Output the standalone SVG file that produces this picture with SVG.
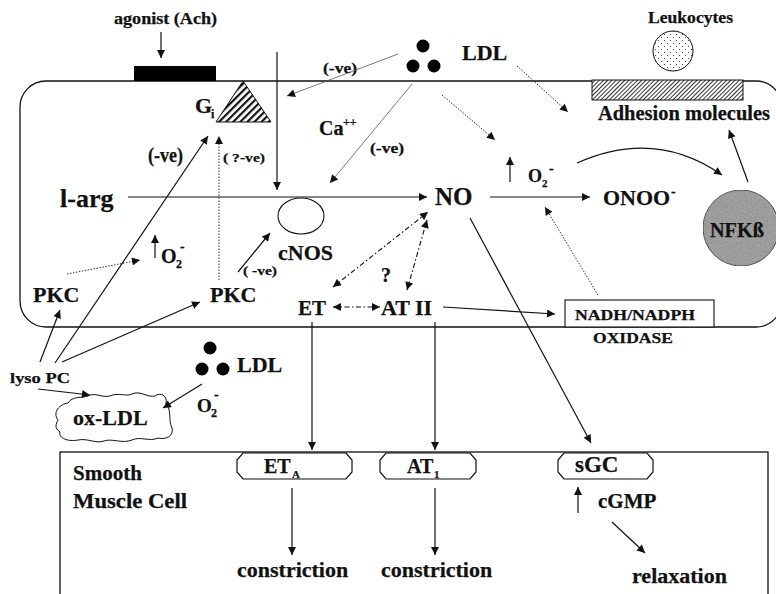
<svg xmlns="http://www.w3.org/2000/svg" width="776" height="594" viewBox="0 0 776 594">
  <style>
    text { font-family: "Liberation Serif", "Times New Roman", serif; font-weight: bold; fill: #111; stroke: #111; stroke-width: 0.25; }
    .ln { fill: none; stroke: #111; stroke-width: 1.2; }
    .dot { fill: none; stroke: #333; stroke-width: 1; stroke-dasharray: 1.5 1.5; }
    .dd { fill: none; stroke: #111; stroke-width: 1.1; stroke-dasharray: 5 2.5 1.5 2.5; }
    .thin { fill: none; stroke: #555; stroke-width: 0.8; }
    .outline { fill: none; stroke: #111; stroke-width: 1.3; }
    .pill { fill: #fff; stroke: #111; stroke-width: 1.2; }
    .ldl { fill: #000; }
  </style>
  <defs>
    <marker id="ah" viewBox="0 0 10 10" refX="10" refY="5" markerWidth="9" markerHeight="8" markerUnits="userSpaceOnUse" orient="auto-start-reverse">
      <path d="M0,0 L10,5 L0,10 Z" fill="#111"/>
    </marker>
    <pattern id="stripes" width="5" height="5" patternUnits="userSpaceOnUse" patternTransform="rotate(45)">
      <rect width="5" height="5" fill="#fff"/>
      <rect width="2.2" height="5" fill="#111"/>
    </pattern>
    <pattern id="fineHatch" width="3" height="3" patternUnits="userSpaceOnUse" patternTransform="rotate(45)">
      <rect width="3" height="3" fill="#fff"/>
      <rect width="1" height="3" fill="#333"/>
    </pattern>
    <pattern id="speckle" width="6" height="6" patternUnits="userSpaceOnUse">
      <rect width="6" height="6" fill="#fff"/>
      <circle cx="1.5" cy="1.5" r="0.6" fill="#333"/>
      <circle cx="4.5" cy="4.5" r="0.6" fill="#333"/>
    </pattern>
    <!-- mottled texture for the nucleus-like NFKB disc -->
    <filter id="grain" x="0" y="0" width="100%" height="100%">
      <feTurbulence type="fractalNoise" baseFrequency="0.8" numOctaves="2" seed="3" result="n"/>
      <feColorMatrix in="n" type="matrix" values="0 0 0 0 0.25  0 0 0 0 0.25  0 0 0 0 0.25  2.2 0 0 0 -0.9" result="g"/>
      <feComposite in="g" in2="SourceGraphic" operator="in" result="gc"/>
      <feMerge><feMergeNode in="SourceGraphic"/><feMergeNode in="gc"/></feMerge>
    </filter>
  </defs>

  <!-- endothelial cell -->
  <rect id="endothelium" x="20" y="81" width="762" height="246" rx="26" class="outline"/>
  <!-- smooth muscle cell -->
  <rect id="smooth-muscle" x="60" y="452" width="708" height="200" class="outline"/>
  <g id="smc-label">
    <text x="73" y="480" font-size="21">Smooth</text>
    <text x="73" y="508" font-size="21" textLength="114" lengthAdjust="spacingAndGlyphs">Muscle Cell</text>
  </g>

  <!-- receptor and agonist -->
  <g id="receptor">
    <rect x="134" y="66" width="82" height="15" fill="#000"/>
    <text x="114" y="24" font-size="16" textLength="103" lengthAdjust="spacingAndGlyphs">agonist (Ach)</text>
  </g>

  <g id="gi">
    <text x="195" y="113" font-size="22">G</text>
    <text x="211" y="118" font-size="12">i</text>
    <path d="M243,81 L271,122 L216,122 Z" fill="url(#stripes)" stroke="#111" stroke-width="1"/>
  </g>

  <g id="ldl-top">
    <circle cx="423" cy="46" r="6.5" class="ldl"/>
    <circle cx="413" cy="66" r="6.5" class="ldl"/>
    <circle cx="434" cy="66" r="6.5" class="ldl"/>
    <text x="462" y="60" font-size="22">LDL</text>
  </g>

  <g id="leukocyte">
    <text x="648" y="23" font-size="16" textLength="85" lengthAdjust="spacingAndGlyphs">Leukocytes</text>
    <circle cx="673" cy="51" r="20" fill="url(#speckle)" stroke="#111" stroke-width="1"/>
  </g>

  <g id="adhesion">
    <rect x="592" y="80" width="151" height="20" fill="url(#fineHatch)" stroke="#111" stroke-width="1"/>
    <text x="598" y="120" font-size="20" textLength="172" lengthAdjust="spacingAndGlyphs">Adhesion molecules</text>
  </g>

  <g id="calcium">
    <text x="319" y="135" font-size="20">Ca</text>
    <text x="343" y="126" font-size="12">++</text>
  </g>

  <g id="labels-ve">
    <text x="323" y="73" font-size="15" textLength="34" lengthAdjust="spacingAndGlyphs">(-ve)</text>
    <text x="370" y="153" font-size="15" textLength="34" lengthAdjust="spacingAndGlyphs">(-ve)</text>
    <text x="148" y="162" font-size="20" textLength="35" lengthAdjust="spacingAndGlyphs">(-ve)</text>
    <text x="223" y="162" font-size="13" textLength="42" lengthAdjust="spacingAndGlyphs">( ?-ve)</text>
    <text x="243" y="275" font-size="12" textLength="34" lengthAdjust="spacingAndGlyphs">( -ve)</text>
  </g>

  <g id="larg"><text x="60" y="207" font-size="26">l-arg</text></g>
  <g id="no"><text x="435" y="205" font-size="25">NO</text></g>
  <g id="onoo">
    <text x="603" y="205" font-size="22">ONOO</text>
    <text x="671" y="196" font-size="14">-</text>
  </g>

  <g id="o2-upper">
    <text x="528" y="182" font-size="18">O</text>
    <text x="542" y="187" font-size="11">2</text>
    <text x="549" y="173" font-size="14">-</text>
  </g>

  <g id="cnos">
    <ellipse cx="301" cy="216" rx="23" ry="18" fill="none" stroke="#111" stroke-width="1.1"/>
    <text x="278" y="260" font-size="22">cNOS</text>
  </g>

  <g id="o2-left">
    <text x="161" y="263" font-size="20">O</text>
    <text x="176" y="268" font-size="12">2</text>
    <text x="180" y="251" font-size="14">-</text>
  </g>

  <g id="pkc-left"><text x="33" y="302" font-size="22">PKC</text></g>
  <g id="pkc-right"><text x="210" y="302" font-size="22">PKC</text></g>

  <g id="et"><text x="298" y="315" font-size="21">ET</text></g>
  <g id="at2"><text x="381" y="315" font-size="22">AT II</text></g>
  <g id="question"><text x="381" y="282" font-size="20">?</text></g>

  <g id="nadph">
    <rect x="565" y="300" width="149" height="27" fill="#fff" stroke="#111" stroke-width="1.1"/>
    <text x="575" y="320" font-size="15" textLength="120" lengthAdjust="spacingAndGlyphs">NADH/NADPH</text>
    <text x="593" y="343" font-size="15" textLength="80" lengthAdjust="spacingAndGlyphs">OXIDASE</text>
  </g>

  <g id="nfkb">
    <circle cx="741" cy="228" r="38" fill="#a2a2a2" stroke="#444" stroke-width="1" filter="url(#grain)"/>
    <text x="710" y="237" font-size="21" textLength="54" lengthAdjust="spacingAndGlyphs">NFKß</text>
  </g>

  <g id="lysopc"><text x="10" y="383" font-size="15" textLength="60" lengthAdjust="spacingAndGlyphs">lyso PC</text></g>

  <g id="oxldl">
    <path d="M58,420 C52,412 60,404 68,403 C72,396 82,398 88,396 C95,392 102,398 110,396 C118,392 126,397 132,394 C140,390 148,398 155,396 C160,392 168,395 166,404 C172,410 168,420 172,428 C174,436 166,440 158,438 C150,442 140,436 132,440 C122,444 112,438 104,441 C96,444 88,438 78,440 C68,442 58,438 60,432 C54,428 56,424 58,420 Z" fill="#fff" stroke="#111" stroke-width="1"/>
    <text x="73" y="425" font-size="22">ox-LDL</text>
  </g>

  <g id="ldl-bottom">
    <circle cx="210" cy="348" r="6.5" class="ldl"/>
    <circle cx="202" cy="369" r="6.5" class="ldl"/>
    <circle cx="223" cy="369" r="6.5" class="ldl"/>
    <text x="237" y="372" font-size="22">LDL</text>
  </g>

  <g id="o2-bottom">
    <text x="197" y="412" font-size="19">O</text>
    <text x="211" y="417" font-size="12">2</text>
    <text x="214" y="399" font-size="14">-</text>
  </g>

  <g id="eta">
    <path class="pill" d="M243,453 L346,453 L352,460 L352,472 L346,479 L243,479 L237,472 L237,460 Z"/>
    <text x="264" y="473" font-size="20">ET</text>
    <text x="292" y="478" font-size="11">A</text>
  </g>
  <g id="at1">
    <path class="pill" d="M386,453 L470,453 L476,460 L476,472 L470,479 L386,479 L380,472 L380,460 Z"/>
    <text x="407" y="473" font-size="20">AT</text>
    <text x="434" y="478" font-size="11">1</text>
  </g>
  <g id="sgc">
    <path class="pill" d="M564,453 L647,453 L653,460 L653,472 L647,479 L564,479 L558,472 L558,460 Z"/>
    <text x="575" y="472" font-size="23">sGC</text>
  </g>

  <g id="cgmp"><text x="598" y="508" font-size="21">cGMP</text></g>
  <g id="outcomes">
    <text x="237" y="577" font-size="22">constriction</text>
    <text x="381" y="577" font-size="22">constriction</text>
    <text x="632" y="583" font-size="22">relaxation</text>
  </g>

  <!-- connectors -->
  <g id="connectors">
    <path class="ln" d="M161,32 L161,58" marker-end="url(#ah)"/>
    <path class="ln" d="M277,52 L277,190" marker-end="url(#ah)"/>
    <path class="thin" d="M398,54 L287,96" marker-end="url(#ah)"/>
    <path class="thin" d="M412,84 L330,183" marker-end="url(#ah)"/>
    <path class="dot" d="M517,66 L568,112" marker-end="url(#ah)"/>
    <path class="dot" d="M442,95 L495,140" marker-end="url(#ah)"/>
    <path class="ln" d="M128,197 L427,197" marker-end="url(#ah)"/>
    <path class="ln" d="M490,197 L590,197" marker-end="url(#ah)"/>
    <path class="ln" d="M510,182 L510,157" marker-end="url(#ah)"/>
    <path class="ln" d="M577,163 Q655,128 722,175" marker-end="url(#ah)"/>
    <path class="ln" d="M748,182 L729,130" marker-end="url(#ah)"/>
    <path class="dot" d="M598,295 L545,207" marker-end="url(#ah)"/>
    <path class="ln" d="M443,307 L555,314" marker-end="url(#ah)"/>
    <path class="ln" d="M470,218 L591,443" marker-end="url(#ah)"/>
    <path class="dd" d="M333,287 L428,212" marker-start="url(#ah)" marker-end="url(#ah)"/>
    <path class="dd" d="M407,290 L427,220" marker-start="url(#ah)" marker-end="url(#ah)"/>
    <path class="dd" d="M333,307 L380,307" marker-start="url(#ah)" marker-end="url(#ah)"/>
    <path class="ln" d="M312,322 L312,450" marker-end="url(#ah)"/>
    <path class="ln" d="M435,322 L435,450" marker-end="url(#ah)"/>
    <path class="ln" d="M55,363 L208,136" marker-end="url(#ah)"/>
    <path class="ln" d="M40,362 L60,310" marker-end="url(#ah)"/>
    <path class="ln" d="M62,362 L200,302" marker-end="url(#ah)"/>
    <path class="ln" d="M38,389 L90,395" marker-end="url(#ah)"/>
    <path class="dot" d="M219,280 L219,136" marker-end="url(#ah)"/>
    <path class="ln" d="M238,272 L270,233" marker-end="url(#ah)"/>
    <path class="ln" d="M155,258 L155,235" marker-end="url(#ah)"/>
    <path class="dot" d="M67,274 L140,260" marker-end="url(#ah)"/>
    <path class="ln" d="M202,384 L163,408" marker-end="url(#ah)"/>
    <path class="ln" d="M292,488 L292,555" marker-end="url(#ah)"/>
    <path class="ln" d="M435,488 L435,555" marker-end="url(#ah)"/>
    <path class="ln" d="M578,513 L578,487" marker-end="url(#ah)"/>
    <path class="ln" d="M612,522 L645,553" marker-end="url(#ah)"/>
  </g>
</svg>
